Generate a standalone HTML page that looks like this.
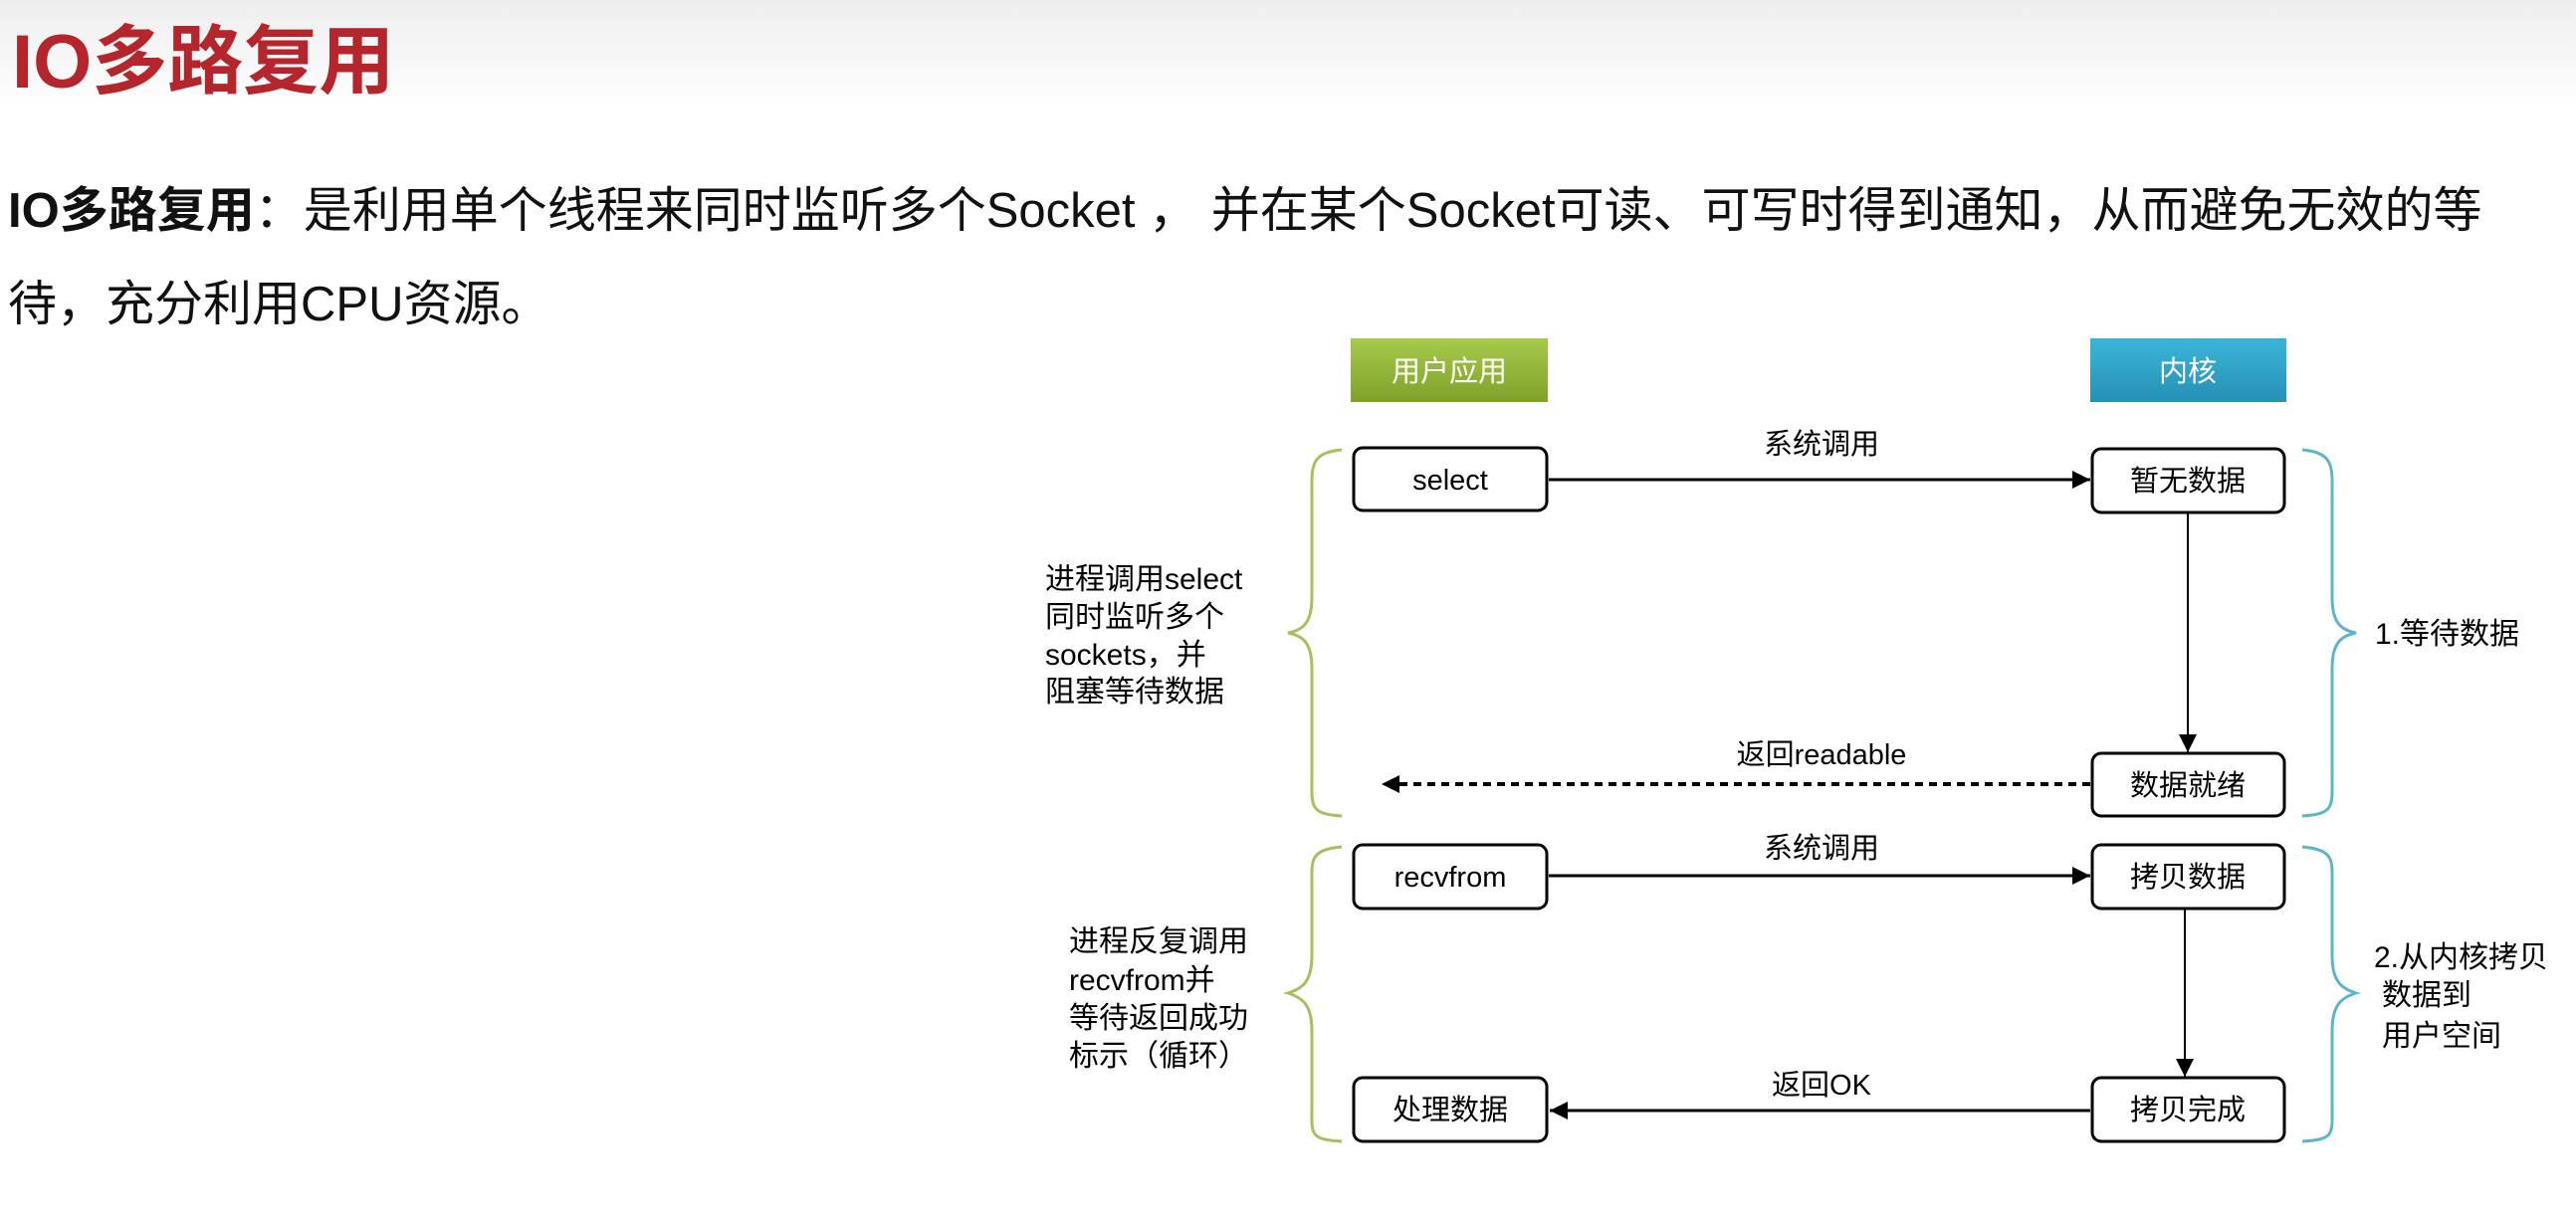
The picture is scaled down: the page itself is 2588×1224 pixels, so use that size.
<!DOCTYPE html>
<html><head><meta charset="utf-8"><style>
html,body{margin:0;padding:0;}
body{width:2588px;height:1224px;overflow:hidden;background:linear-gradient(#eeeeee 0px,#ffffff 110px,#ffffff 100%);font-family:"Liberation Sans","Noto Sans CJK SC",sans-serif;position:relative;}
.t{position:absolute;white-space:nowrap;}
</style></head><body>
<div class="t" style="left:12px;top:18px;font-size:76px;font-weight:bold;color:#b4262b;line-height:90px;">IO多路复用</div>
<div class="t" style="left:8px;top:182px;font-size:49px;color:#111;line-height:60px;"><b>IO多路复用</b>：是利用单个线程来同时监听多个Socket ， 并在某个Socket可读、可写时得到通知，从而避免无效的等</div>
<div class="t" style="left:8px;top:276px;font-size:49px;color:#111;line-height:60px;">待，充分利用CPU资源。</div>
<svg width="2588" height="1224" style="position:absolute;left:0;top:0" font-family="Liberation Sans, Noto Sans CJK SC, sans-serif">
<defs>
<linearGradient id="g1" x1="0" y1="0" x2="0" y2="1"><stop offset="0" stop-color="#a8c94a"/><stop offset="1" stop-color="#7ea22a"/></linearGradient>
<linearGradient id="g2" x1="0" y1="0" x2="0" y2="1"><stop offset="0" stop-color="#3bb6d8"/><stop offset="1" stop-color="#2590b5"/></linearGradient>
<marker id="b" markerWidth="20" markerHeight="18" refX="18" refY="9" orient="auto" markerUnits="userSpaceOnUse"><path d="M0,0 L18,9 L0,18 z" fill="#000"/></marker>
</defs>
<rect x="1357" y="340" width="198" height="64" fill="url(#g1)"/>
<text x="1456" y="383" font-size="29" fill="#fff" text-anchor="middle">用户应用</text>
<rect x="2100" y="340" width="197" height="64" fill="url(#g2)"/>
<text x="2198" y="383" font-size="29" fill="#fff" text-anchor="middle">内核</text>
<g fill="#fff" stroke="#000" stroke-width="3">
<rect x="1360" y="450" width="194" height="63" rx="9"/>
<rect x="2102" y="451" width="193" height="64" rx="9"/>
<rect x="2102" y="757" width="193" height="63" rx="9"/>
<rect x="1360" y="849" width="194" height="64" rx="9"/>
<rect x="2102" y="849" width="193" height="64" rx="9"/>
<rect x="1360" y="1083" width="194" height="64" rx="9"/>
<rect x="2102" y="1083" width="193" height="64" rx="9"/>
</g>
<g font-size="29" fill="#000" text-anchor="middle">
<text x="1457" y="492">select</text>
<text x="2198" y="493">暂无数据</text>
<text x="2198" y="799">数据就绪</text>
<text x="1457" y="891">recvfrom</text>
<text x="2198" y="891">拷贝数据</text>
<text x="1457" y="1125">处理数据</text>
<text x="2198" y="1125">拷贝完成</text>
<text x="1830" y="456">系统调用</text>
<text x="1830" y="768">返回readable</text>
<text x="1830" y="862">系统调用</text>
<text x="1830" y="1100">返回OK</text>
</g>
<g stroke="#000" fill="none">
<line x1="1556" y1="482" x2="2100" y2="482" stroke-width="3" marker-end="url(#b)"/>
<line x1="2198" y1="515" x2="2198" y2="756" stroke-width="2" marker-end="url(#b)"/>
<line x1="2100" y1="788" x2="1388" y2="788" stroke-width="4" stroke-dasharray="8,6" marker-end="url(#b)"/>
<line x1="1556" y1="880" x2="2100" y2="880" stroke-width="3" marker-end="url(#b)"/>
<line x1="2195" y1="913" x2="2195" y2="1082" stroke-width="2" marker-end="url(#b)"/>
<line x1="2100" y1="1116" x2="1557" y2="1116" stroke-width="3" marker-end="url(#b)"/>
</g>
<g fill="none" stroke-width="3">
<path d="M1348,452 C1315,455 1318,470 1318,500 L1318,600 C1318,625 1310,633 1294,636 C1310,639 1318,647 1318,672 L1318,780 C1318,810 1315,818 1348,820" stroke="#a9bf5c"/>
<path d="M2313,452 C2346,455 2343,470 2343,500 L2343,600 C2343,625 2351,633 2367,636 C2351,639 2343,647 2343,672 L2343,780 C2343,810 2346,818 2313,820" stroke="#5db5cc"/>
<path d="M1348,851 C1315,854 1318,865 1318,890 L1318,960 C1318,985 1310,993 1294,998 C1310,1003 1318,1011 1318,1036 L1318,1110 C1318,1140 1315,1145 1348,1147" stroke="#a9bf5c"/>
<path d="M2313,851 C2346,854 2343,865 2343,890 L2343,960 C2343,985 2351,993 2367,998 C2351,1003 2343,1011 2343,1036 L2343,1110 C2343,1140 2346,1145 2313,1147" stroke="#5db5cc"/>
</g>
<g font-size="30" fill="#000">
<text x="1050" y="592">进程调用select</text>
<text x="1050" y="630">同时监听多个</text>
<text x="1050" y="668">sockets，并</text>
<text x="1050" y="705">阻塞等待数据</text>
<text x="2386" y="647">1.等待数据</text>
<text x="1074" y="956">进程反复调用</text>
<text x="1074" y="995">recvfrom并</text>
<text x="1074" y="1033">等待返回成功</text>
<text x="1074" y="1071">标示（循环）</text>
<text x="2385" y="972">2.从内核拷贝</text>
<text x="2393" y="1010">数据到</text>
<text x="2393" y="1051">用户空间</text>
</g>
</svg>
</body></html>
